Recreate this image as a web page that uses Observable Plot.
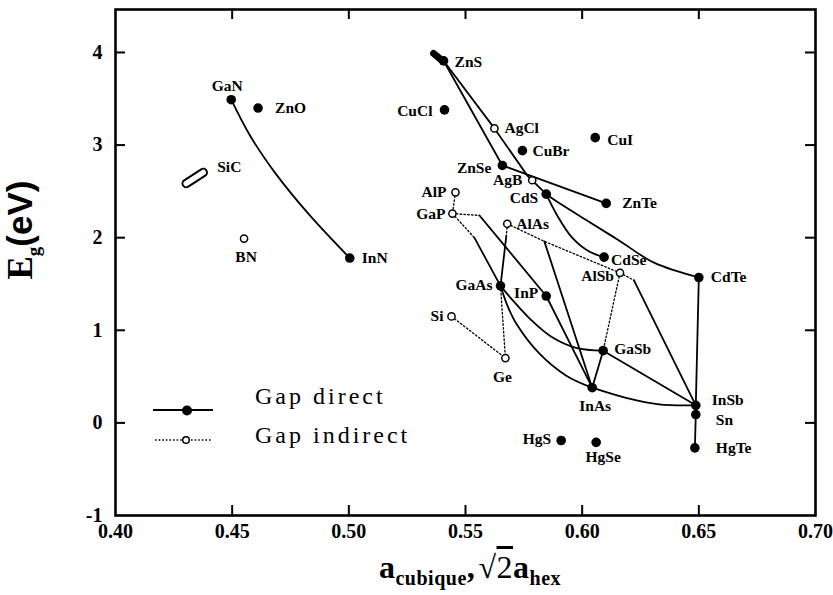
<!DOCTYPE html>
<html><head><meta charset="utf-8">
<script src="https://cdn.jsdelivr.net/npm/d3@7"></script>
<script src="https://cdn.jsdelivr.net/npm/@observablehq/plot@0.6"></script>
<style>
body{margin:0;background:#fff}
#wrap{position:relative;width:833px;height:595px;}
.ov{position:absolute;white-space:nowrap;font-family:"Liberation Serif","DejaVu Serif",serif;color:#000}
</style></head><body>
<div id="wrap"></div>
<script>
// ---------- data ----------
const compounds = ["GaN","ZnO","BN","InN","ZnS","CuCl","AgCl","CuBr","CuI","ZnSe","AgB","AlP","CdS","ZnTe","GaP","AlAs","CdSe","AlSb","GaAs","InP","Si","Ge","GaSb","InAs","CdTe","InSb","Sn","HgTe","HgSe","HgS"];
const lattice = [0.4496,0.4611,0.4551,0.5004,0.5406,0.5410,0.5624,0.5744,0.6056,0.5658,0.5786,0.5457,0.5846,0.6103,0.5444,0.5679,0.6094,0.6162,0.5650,0.5846,0.5440,0.5671,0.6090,0.6043,0.6500,0.6487,0.6487,0.6483,0.6060,0.5910];
const gapEV = [3.49,3.40,1.99,1.78,3.91,3.38,3.18,2.94,3.08,2.78,2.62,2.49,2.47,2.37,2.26,2.15,1.79,1.62,1.48,1.37,1.15,0.70,0.78,0.38,1.57,0.19,0.09,-0.27,-0.21,-0.19];
const gapKind = ["d","d","i","d","d","d","i","d","d","d","i","i","d","d","i","i","d","i","d","d","i","i","d","d","d","d","d","d","d","d"];

const sicLoop = [[0.4303,2.585],[0.4376,2.704]];
const znsBlob = [[0.5363,3.99],[0.5406,3.90]];

// direct-gap alloy lines (solid)
const lineGaN_InN = [[0.4496,3.49],[0.4577,3.10],[0.4684,2.70],[0.4833,2.24],[0.5004,1.78]];
const lineZnS_ZnSe = [[0.5406,3.91],[0.5658,2.78]];
const lineZnS_CdS = [[0.5406,3.91],[0.5624,3.18],[0.5765,2.67],[0.5846,2.47]];
const lineZnSe_ZnTe = [[0.5658,2.78],[0.6103,2.37]];
const lineCdS_CdSe = [[0.5846,2.47],[0.5893,2.24],[0.5957,2.00],[0.6030,1.85],[0.6094,1.79]];
const lineCdS_CdTe = [[0.5846,2.47],[0.5910,2.36],[0.6017,2.19],[0.6158,1.97],[0.6308,1.73],[0.6500,1.57]];
const lineCdTe_HgTe = [[0.6500,1.57],[0.6487,0.19],[0.6487,0.09],[0.6483,-0.27]];
const lineGaP_GaAs = [[0.5538,2.00],[0.5650,1.48]];
const lineGaP_InP = [[0.5560,2.24],[0.5846,1.37]];
const lineAlAs_GaAs = [[0.5675,2.02],[0.5650,1.48]];
const lineAlAs_InAs = [[0.5838,1.96],[0.6043,0.38]];
const lineAlSb_InSb = [[0.6222,1.54],[0.6487,0.19]];
const lineGaAs_GaSb = [[0.5650,1.48],[0.5697,1.34],[0.5782,1.11],[0.5868,0.93],[0.5974,0.81],[0.6090,0.78]];
const lineGaAs_InAs = [[0.5650,1.48],[0.5679,1.27],[0.5718,1.07],[0.5816,0.75],[0.5932,0.51],[0.6043,0.38]];
const lineInP_InAs = [[0.5846,1.37],[0.6043,0.38]];
const lineGaSb_InAs = [[0.6090,0.78],[0.6043,0.38]];
const lineGaSb_InSb = [[0.6090,0.78],[0.6487,0.19]];
const lineInAs_InSb = [[0.6043,0.38],[0.6188,0.27],[0.6329,0.20],[0.6487,0.19]];

// indirect-gap alloy lines (dotted)
const dotAlP_GaP = [[0.5457,2.49],[0.5444,2.26]];
const dotGaP_GaAs = [[0.5444,2.26],[0.5538,2.00]];
const dotGaP_InP = [[0.5444,2.26],[0.5560,2.24]];
const dotAlAs_GaAs = [[0.5679,2.15],[0.5675,2.02]];
const dotAlAs_AlSb = [[0.5679,2.15],[0.5838,1.96],[0.6162,1.62]];
const dotAlSb_InSb = [[0.6162,1.62],[0.6222,1.54]];
const dotAlSb_GaSb = [[0.6162,1.62],[0.6090,0.78]];
const dotGaAs_Ge = [[0.5650,1.48],[0.5671,0.70]];
const dotSi_Ge = [[0.5440,1.15],[0.5671,0.70]];

const xTickLabels = [0.40,0.45,0.50,0.55,0.60,0.65,0.70];
const yTickLabels = [-1,0,1,2,3,4];
const xTickMarks = [0.45,0.50,0.55,0.60,0.65];
const yTickMarks = [0,1,2,3,4];

// ---------- styling ----------
const labelPos = {
  GaN:["middle",-4,-14], ZnO:["start",17,0], BN:["middle",2,18], InN:["start",12,0],
  ZnS:["start",11,1], CuCl:["end",-12,1], AgCl:["start",10,0], CuBr:["start",10,0],
  CuI:["start",12,2], ZnSe:["end",-11,3], AgB:["end",-10,0], AlP:["end",-9,0],
  CdS:["end",-8,4], ZnTe:["start",16,0], GaP:["end",-7,0], AlAs:["start",9,0],
  CdSe:["start",7,3], AlSb:["end",-6,3], GaAs:["end",-8,-1], InP:["end",-8,-3],
  Si:["end",-8,0], Ge:["middle",-3,19], GaSb:["start",11,-2], InAs:["middle",3,18],
  CdTe:["start",12,0], InSb:["start",16,-5], Sn:["start",20,5], HgTe:["start",21,0],
  HgSe:["middle",7,15], HgS:["end",-10,-1]
};
const serif = "Liberation Serif, DejaVu Serif, serif";
const W = 833, H = 595, mL = 115, mR = 18, mT = 9, mB = 80;
const pw = W - mL - mR, ph = H - mT - mB;

const pts = compounds.map((n,i)=>({name:n, a:lattice[i], e:gapEV[i], kind:gapKind[i]}));
const direct = pts.filter(d=>d.kind==="d");
const indirect = pts.filter(d=>d.kind==="i");

const solidLines = [
  [lineGaN_InN,"catmull-rom"],[lineZnS_ZnSe,"linear"],[lineZnS_CdS,"linear"],[lineZnSe_ZnTe,"linear"],
  [lineCdS_CdSe,"catmull-rom"],[lineCdS_CdTe,"catmull-rom"],[lineCdTe_HgTe,"linear"],
  [lineGaP_GaAs,"linear"],[lineGaP_InP,"linear"],[lineAlAs_GaAs,"linear"],[lineAlAs_InAs,"linear"],
  [lineAlSb_InSb,"linear"],[lineGaAs_GaSb,"catmull-rom"],[lineGaAs_InAs,"catmull-rom"],
  [lineInP_InAs,"linear"],[lineGaSb_InAs,"linear"],[lineGaSb_InSb,"linear"],[lineInAs_InSb,"catmull-rom"]
];
const dottedLines = [dotAlP_GaP,dotGaP_GaAs,dotGaP_InP,dotAlAs_GaAs,dotAlAs_AlSb,dotAlSb_InSb,dotAlSb_GaSb,dotGaAs_Ge,dotSi_Ge];

const marks = [];
for (const [l,c] of solidLines) marks.push(Plot.line(l,{x:d=>d[0],y:d=>d[1],curve:c,stroke:"black",strokeWidth:1.8}));
for (const l of dottedLines) marks.push(Plot.line(l,{x:d=>d[0],y:d=>d[1],stroke:"black",strokeWidth:1.3,strokeDasharray:"1.6,2.2"}));
marks.push(Plot.line(sicLoop,{x:d=>d[0],y:d=>d[1],stroke:"black",strokeWidth:9.5,strokeLinecap:"round"}));
marks.push(Plot.line(sicLoop,{x:d=>d[0],y:d=>d[1],stroke:"white",strokeWidth:5.5,strokeLinecap:"round"}));
marks.push(Plot.line(znsBlob,{x:d=>d[0],y:d=>d[1],stroke:"black",strokeWidth:7,strokeLinecap:"round"}));
marks.push(Plot.dot(direct,{x:"a",y:"e",r:4.8,fill:"black"}));
marks.push(Plot.dot(indirect,{x:"a",y:"e",r:3.6,fill:"white",stroke:"black",strokeWidth:1.5}));
for (const p of pts) {
  const [anchor,dx,dy] = labelPos[p.name];
  marks.push(Plot.text([p],{x:"a",y:"e",text:"name",textAnchor:anchor,dx,dy,fontSize:15.5,fontWeight:"bold",fontFamily:serif,fill:"black"}));
}
marks.push(Plot.text([{a:sicLoop[1][0],e:sicLoop[1][1]}],{x:"a",y:"e",text:()=>"SiC",textAnchor:"start",dx:14,dy:-5,fontSize:15.5,fontWeight:"bold",fontFamily:serif}));
// inward ticks
marks.push(Plot.tickX(xTickMarks,{x:d=>d,insetTop:ph-10,strokeWidth:2}));
marks.push(Plot.tickX(xTickMarks,{x:d=>d,insetBottom:ph-10,strokeWidth:2}));
marks.push(Plot.tickY(yTickMarks,{y:d=>d,insetRight:pw-10,strokeWidth:2}));
marks.push(Plot.tickY(yTickMarks,{y:d=>d,insetLeft:pw-10,strokeWidth:2}));
marks.push(Plot.axisX(xTickLabels,{anchor:"bottom",tickSize:0,tickPadding:8,tickFormat:d=>d.toFixed(2),fontSize:20,label:null}));
marks.push(Plot.axisY(yTickLabels,{anchor:"left",tickSize:0,tickPadding:13,tickFormat:d=>String(d),fontSize:20,label:null}));
marks.push(Plot.frame({stroke:"black",strokeWidth:2.6}));

const chart = Plot.plot({
  width:W, height:H, marginLeft:mL, marginRight:mR, marginTop:mT, marginBottom:mB,
  x:{domain:[0.40,0.70]}, y:{domain:[-1,4.464]},
  style:{background:"white",color:"black",overflow:"visible"},
  marks
});
// tick labels: bold serif (numeric texts only)
d3.select(chart).selectAll("text")
  .filter(function(){ return /^[-\u2212]?\d/.test(this.textContent); })
  .style("font-family", serif).style("font-weight", "bold").style("font-size", "20px");
const wrap = document.getElementById("wrap");
wrap.appendChild(chart);

// axis titles and legend (HTML overlays)
wrap.insertAdjacentHTML("beforeend", `
<div class="ov" style="left:22px;top:230px;transform:translate(-50%,-50%) rotate(-90deg);font-size:35px;font-weight:bold;">E<sub style="font-size:19px;">g</sub><span style="font-family:'Liberation Sans',sans-serif;">(eV)</span></div>
<div class="ov" style="left:470px;top:549px;transform:translateX(-50%);font-size:32px;font-weight:bold;letter-spacing:0.5px;">a<sub style="font-size:20px;">cubique</sub>,&#8202;√<span style="text-decoration:overline;font-weight:normal;">2</span>a<sub style="font-size:20px;">hex</sub></div>
<svg class="ov" style="left:150px;top:400px;" width="70" height="50">
  <line x1="3" y1="10" x2="63" y2="10" stroke="black" stroke-width="2"/>
  <circle cx="37" cy="10.5" r="5" fill="black"/>
  <line x1="5" y1="40" x2="62" y2="40" stroke="black" stroke-width="1.3" stroke-dasharray="1.6,2"/>
  <circle cx="36" cy="40" r="3.3" fill="white" stroke="black" stroke-width="1.5"/>
</svg>
<div class="ov" style="left:255px;top:382px;font-size:24px;letter-spacing:3px;line-height:28px;">Gap direct</div>
<div class="ov" style="left:255px;top:421px;font-size:24px;letter-spacing:3px;line-height:28px;">Gap indirect</div>
`);
</script>
</body></html>
